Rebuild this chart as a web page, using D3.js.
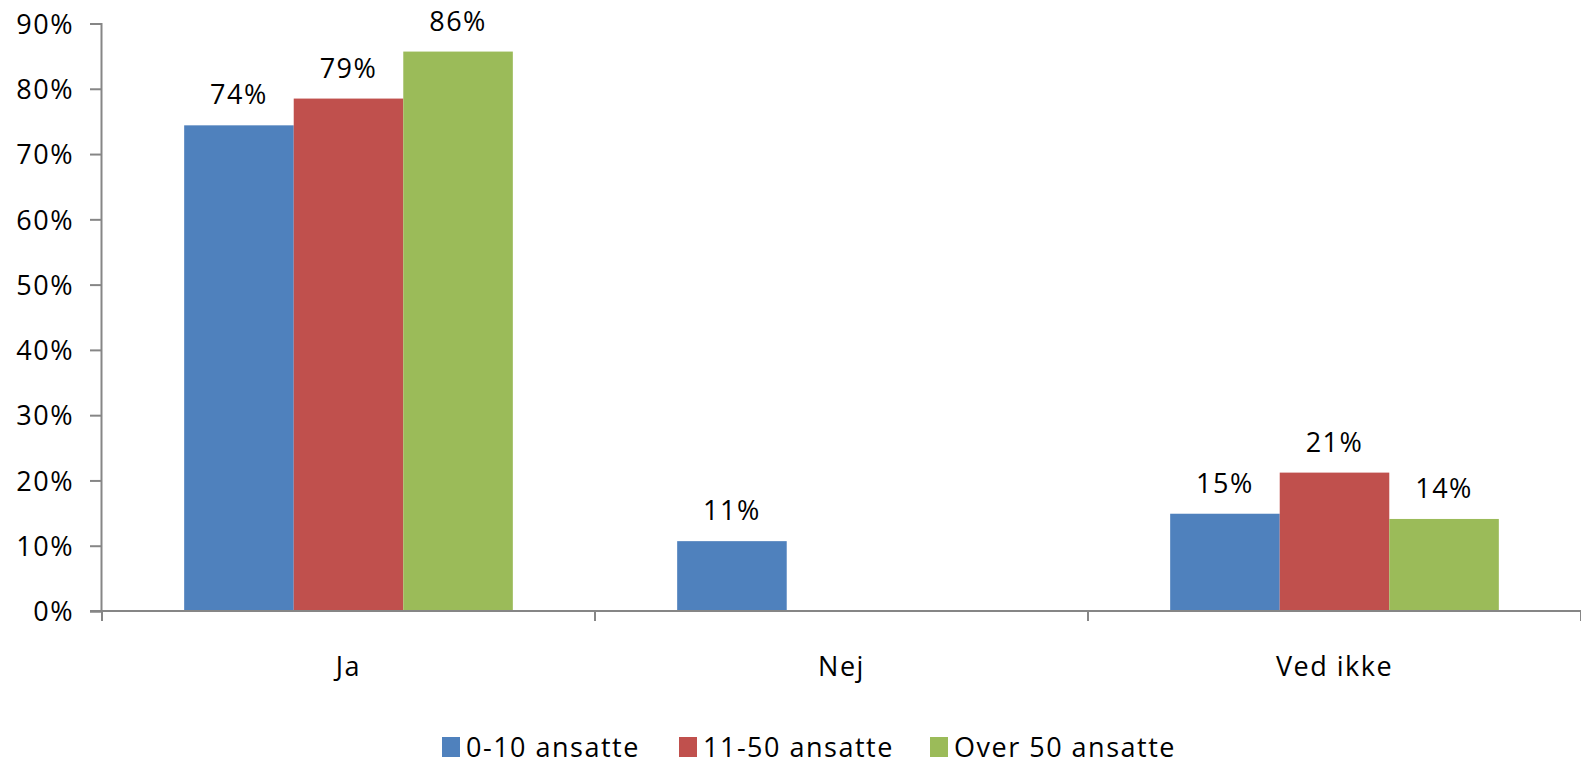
<!DOCTYPE html>
<html>
<head>
<meta charset="utf-8">
<script src="https://cdn.jsdelivr.net/npm/d3@7"></script>
<style>
  html, body { margin: 0; padding: 0; background: #fff; }
  svg { display: block; font-family: "Open Sans", "Noto Sans", sans-serif; }
  text { letter-spacing: 1.5px; }
</style>
</head>
<body>
<svg id="chart" width="1581" height="766"></svg>
<script>
const categories = ["Ja", "Nej", "Ved ikke"];
const seriesNames = ["0-10 ansatte", "11-50 ansatte", "Over 50 ansatte"];
// data labels as printed
const s0 = [74, 11, 15];     // 0-10 ansatte
const s1 = [79, null, 21];   // 11-50 ansatte
const s2 = [86, null, 14];   // Over 50 ansatte
// bar heights
const h0 = [74.4, 10.7, 14.9];
const h1 = [78.5, null, 21.2];
const h2 = [85.7, null, 14.1];
const yTicks = [0, 10, 20, 30, 40, 50, 60, 70, 80, 90];
const colors = ["#4F81BD", "#C0504D", "#9BBB59"];

const svg = d3.select("#chart");
const mLeft = 102, mRight = 1581, mTop = 23.5, mBottom = 611;
const fs = 27;

const x = d3.scaleBand().domain(categories).range([mLeft, mRight]).paddingInner(0).paddingOuter(0);
const xs = d3.scaleBand().domain(seriesNames).range([0, x.bandwidth()]).paddingInner(0).paddingOuter(0.75);
const y = d3.scaleLinear().domain([0, 90]).range([mBottom, mTop]);

const axisColor = "#868686";

// y axis
const yAxis = svg.append("g").attr("transform", `translate(${mLeft - 1},0)`)
  .call(d3.axisLeft(y).tickValues(yTicks).tickFormat(d => d + "%").tickSize(11).tickPadding(16));
yAxis.select(".domain").attr("stroke", axisColor).attr("stroke-width", 2);
yAxis.selectAll(".tick line").attr("stroke", axisColor).attr("stroke-width", 2);
yAxis.selectAll(".tick text").attr("fill", "#000").attr("font-size", fs)
  .attr("font-family", "'Open Sans', 'Noto Sans', sans-serif").attr("dy", "0.36em");

// bars
const values = [h0, h1, h2];
const labels = [s0, s1, s2];
const rows = [];
categories.forEach((c, i) => {
  seriesNames.forEach((s, j) => {
    if (values[j][i] != null) rows.push({ c, s, j, v: values[j][i], lab: labels[j][i] });
  });
});

svg.append("g").selectAll("rect").data(rows).join("rect")
  .attr("x", d => x(d.c) + xs(d.s))
  .attr("width", xs.bandwidth())
  .attr("y", d => y(d.v))
  .attr("height", d => y(0) - y(d.v))
  .attr("fill", d => colors[d.j]);

svg.append("g").selectAll("text").data(rows).join("text")
  .attr("x", d => x(d.c) + xs(d.s) + xs.bandwidth() / 2)
  .attr("y", d => y(d.v) - 21)
  .attr("text-anchor", "middle")
  .attr("font-size", fs)
  .attr("fill", "#000")
  .text(d => d.lab + "%");

// x axis
const xAxisG = svg.append("g");
xAxisG.append("line").attr("x1", mLeft - 12).attr("x2", mRight).attr("y1", mBottom).attr("y2", mBottom)
  .attr("stroke", axisColor).attr("stroke-width", 2);
const tickXs = categories.map(c => x(c)).concat([x(categories[categories.length - 1]) + x.bandwidth()]);
xAxisG.selectAll("line.t").data(tickXs).join("line").attr("class", "t")
  .attr("x1", d => d).attr("x2", d => d).attr("y1", mBottom).attr("y2", mBottom + 10)
  .attr("stroke", axisColor).attr("stroke-width", 2);
xAxisG.selectAll("text").data(categories).join("text")
  .attr("x", d => x(d) + x.bandwidth() / 2)
  .attr("y", 676)
  .attr("text-anchor", "middle")
  .attr("font-size", fs)
  .attr("fill", "#000")
  .text(d => d);

// legend
const legendX = [442, 679, 930];
const lg = svg.append("g").selectAll("g").data(seriesNames).join("g")
  .attr("transform", (d, i) => `translate(${legendX[i]},737)`);
lg.append("rect").attr("width", 18).attr("height", 20).attr("fill", (d, i) => colors[i]);
lg.append("text").attr("x", 24).attr("y", 20).attr("font-size", fs).attr("fill", "#000").text(d => d);
</script>
</body>
</html>
